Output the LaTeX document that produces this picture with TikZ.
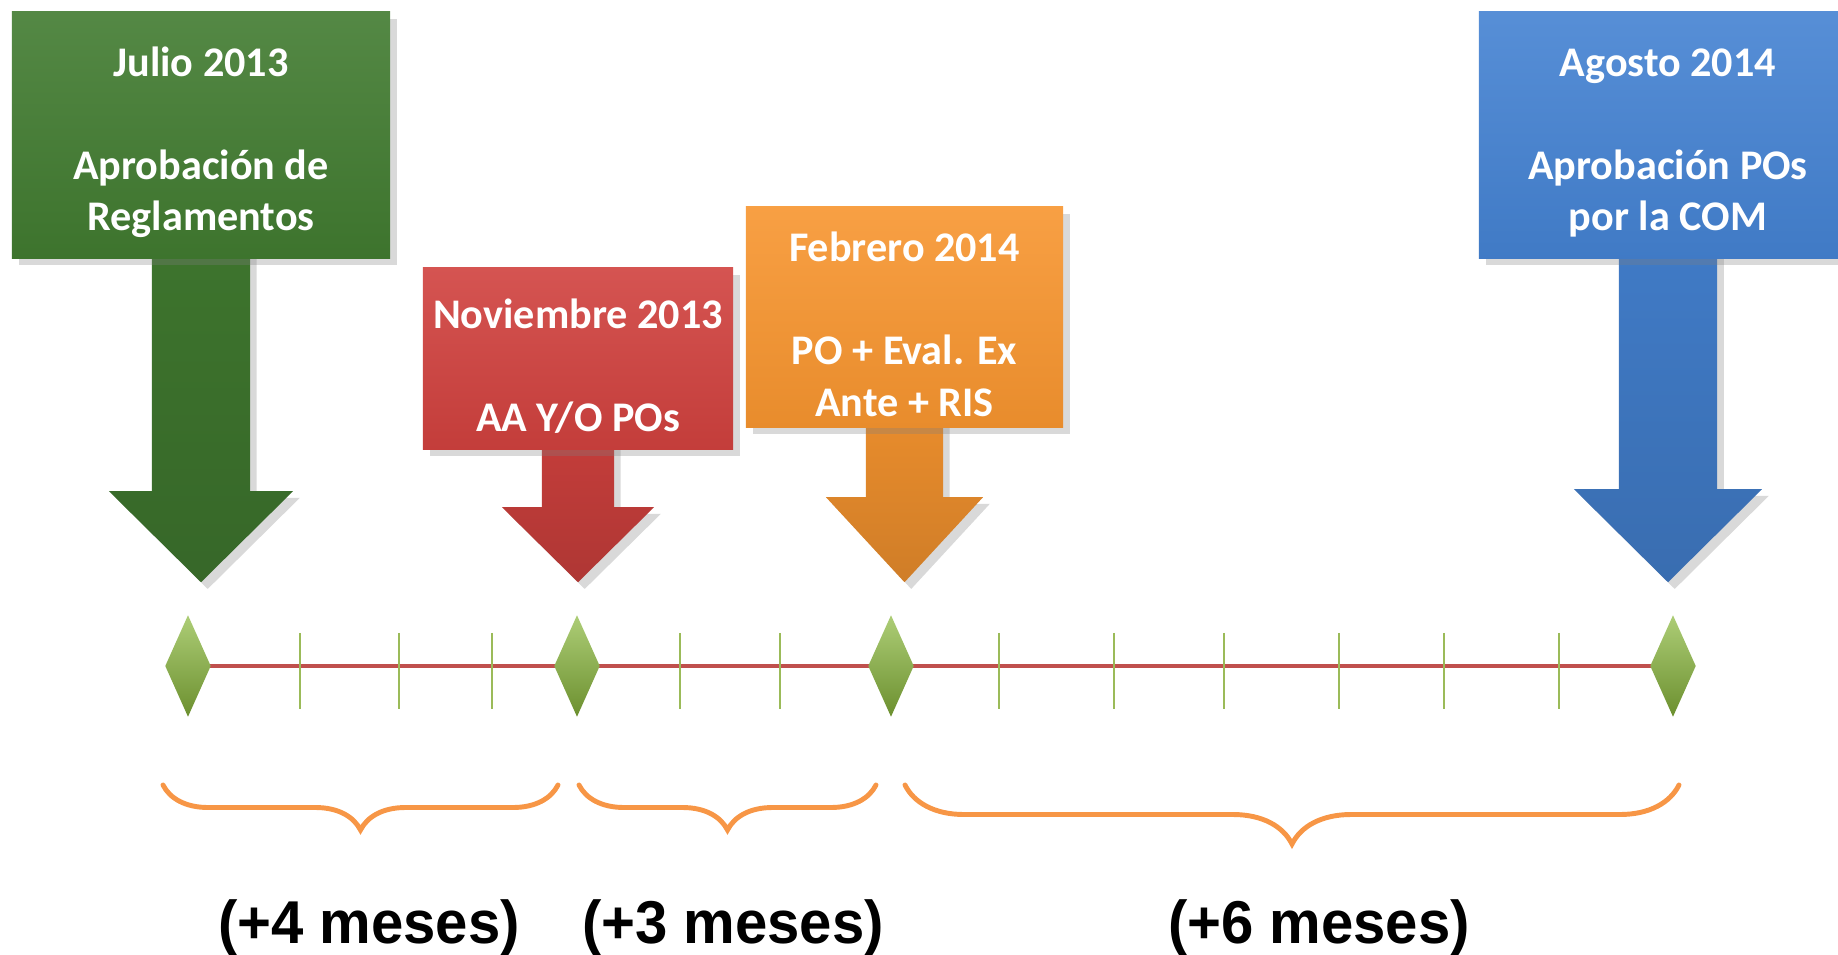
\documentclass[tikz,border=0pt]{standalone}
\usepackage{fontspec}
\setmainfont{Carlito}
\newfontfamily\arialfont{Liberation Sans}
\usetikzlibrary{calc}
\usetikzlibrary{shadows}
\usetikzlibrary{positioning}
\usetikzlibrary{backgrounds}
\usetikzlibrary{decorations.pathreplacing}
\usetikzlibrary{shapes.geometric}
\definecolor{JulGreen}{HTML}{417B30}
\definecolor{NovRed}{HTML}{D0413E}
\definecolor{FebOrange}{HTML}{F7952F}
\definecolor{AugBlue}{HTML}{4482D2}
\definecolor{GemGreen}{HTML}{8AB83C}
\definecolor{TickGreen}{HTML}{9BBB59}
\definecolor{AxisRed}{HTML}{C0504D}
\definecolor{BraceOrange}{HTML}{F79646}
\tikzset{
  % soft shadows below the boxes and pointers
  every shadow/.style={opacity=.3,shadow xshift=.4ex,shadow yshift=-.4ex},
  % boxes holding a date and what happens then
  milestone/.style={
    top color=#1!90!white,bottom color=#1!94!black,
    drop shadow,inner sep=0pt,align=center,text=white,
    font=\bfseries\fontsize{12}{14.6}\selectfont,
  },
  % the fat arrow under a box
  pointer/.style={top color=#1!94!black,bottom color=#1!84!black,drop shadow},
  % the marks on the time line
  gem/.style={
    diamond,inner sep=0pt,minimum width=.46cm,minimum height=1.02cm,
    top color=GemGreen!70!white,bottom color=GemGreen!78!black,
  },
  axis/.style={AxisRed,line width=1.1pt},
  month/.style={TickGreen,line width=.7pt},
  span/.style={
    BraceOrange,line width=1.4pt,line cap=round,
    decorate,decoration={brace,mirror,amplitude=#1},
  },
  spanlabel/.style={font=\arialfont\bfseries\fontsize{17.2}{20}\selectfont},
}
% date line of a box, a bit taller so the text sits lower
\newcommand{\datum}[1]{\raisebox{0pt}[12.6pt]{#1}}
% pointer from a box down to just above its gem on the time line
\newcommand{\pointer}[6]{%
  \path[#1] let \p1=(#2.south), \p2=(#3.north) in
    (\x1-#4,\y1+.1cm) -- (\x1-#4,\y2+.32cm+#6) -- (\x1-#5,\y2+.32cm+#6)
    -- (\x1,\y2+.32cm) -- (\x1+#5,\y2+.32cm+#6) -- (\x1+#4,\y2+.32cm+#6)
    -- (\x1+#4,\y1+.1cm) -- cycle;
}

\begin{document}
\begin{tikzpicture}[x=0.01cm,y=-0.01cm]
  \clip (0,0) rectangle (1838,955);
  % milestones
  \node[milestone=JulGreen,minimum width=3.78cm,minimum height=2.46cm] (jul) at (201,135)
    {\datum{Julio 2013}\\[14.6pt]Aprobación de\\Reglamentos};
  \node[milestone=NovRed,minimum width=3.10cm,minimum height=1.81cm] (nov) at (578,358.5)
    {\datum{Noviembre 2013}\\[14.6pt]AA Y/O POs};
  \node[milestone=FebOrange,minimum width=3.17cm,minimum height=2.20cm] (feb) at (904.5,317)
    {\datum{Febrero 2014}\\[14.6pt]PO + Eval. Ex\\Ante + RIS};
  \node[milestone=AugBlue,minimum width=3.78cm,minimum height=2.46cm] (aug) at (1668,135)
    {\datum{Agosto 2014}\\[14.6pt]Aprobación POs\\por la COM};
  % time line
  \node[gem] (d1) at (188,666) {};
  \node[gem] (d2) at (577,666) {};
  \node[gem] (d3) at (891,666) {};
  \node[gem] (d4) at (1673,666) {};
  \begin{pgfonlayer}{background}
    \draw[axis] (d1.center) -- (d4.center);
    \foreach \x in {300,399,492,680,780,999,1114,1224,1339,1444,1559}
      \draw[month] (\x,633) -- (\x,709);
    \pointer{pointer=JulGreen}{jul}{d1}{.49cm}{.92cm}{.91cm}
    \pointer{pointer=NovRed}{nov}{d2}{.36cm}{.76cm}{.75cm}
    \pointer{pointer=FebOrange}{feb}{d3}{.385cm}{.785cm}{.85cm}
    \pointer{pointer=AugBlue}{aug}{d4}{.49cm}{.94cm}{.93cm}
  \end{pgfonlayer}
  % durations
  \draw[span=.45cm] (163,785) -- (558,785);
  \draw[span=.45cm] (579,785) -- (876,785);
  \draw[span=.59cm] (905,785) -- (1679,785);
  \node[spanlabel] (m4) at (369,928) {\scalebox{.96}[1]{(+4 meses)}};
  \node[spanlabel] (m3) at (733,928) {\scalebox{.96}[1]{(+3 meses)}};
  \node[spanlabel] (m6) at (1319,928) {\scalebox{.96}[1]{(+6 meses)}};
\end{tikzpicture}
\end{document}
